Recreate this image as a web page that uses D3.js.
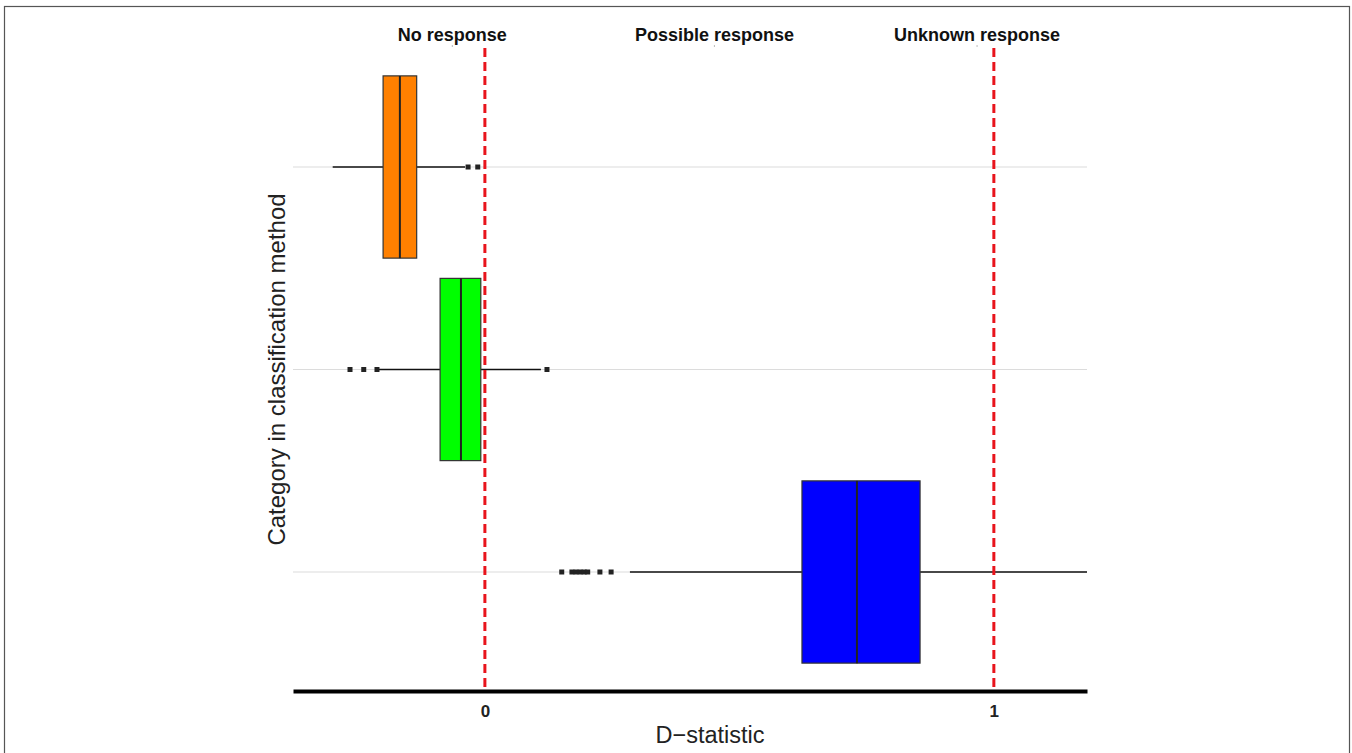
<!DOCTYPE html>
<html>
<head>
<meta charset="utf-8">
<script src="https://cdn.jsdelivr.net/npm/d3@7"></script>
<style>
  html, body { margin: 0; padding: 0; background: #fff; }
  svg { display: block; font-family: "Liberation Sans", Arial, sans-serif; }
</style>
</head>
<body>
<svg id="chart" width="1352" height="753"></svg>
<script>
// ---- data ----
const categories = ["Category 1", "Category 2", "Category 3"];
const boxColors = ["#ff8000", "#00ff00", "#0000ff"];
const whiskerLow  = [-0.299, -0.208, 0.285];
const q1          = [-0.200, -0.088, 0.623];
const medians     = [-0.167, -0.047, 0.731];
const q3          = [-0.134, -0.008, 0.855];
const whiskerHigh = [-0.039, 0.110, 1.200];
const outliers = [
  [-0.033, -0.014],
  [-0.265, -0.238, -0.212, 0.122],
  [0.151, 0.171, 0.179, 0.187, 0.195, 0.202, 0.226, 0.248]
];
const thresholds = [0, 1];
const xTicks = [0, 1];
const zoneLabels = ["No response", "Possible response", "Unknown response"];
const zonePositions = [-0.065, 0.45, 0.966];
const xDomain = [-0.377, 1.183];

// ---- layout ----
const svg = d3.select("#chart");
const pLeft = 293, pRight = 1087, pTop = 45.5, pBottom = 693.5;

const x = d3.scaleLinear().domain(xDomain).range([pLeft, pRight]);
const y = d3.scalePoint().domain(categories).range([pTop, pBottom]).padding(0.6);
const boxH = y.step() * 0.9;

// outer frame
svg.append("rect").attr("x", 4.5).attr("y", 6.5).attr("width", 1345).attr("height", 800)
  .attr("fill", "none").attr("stroke", "#555").attr("stroke-width", 1.2);

svg.append("defs").append("clipPath").attr("id", "clip")
  .append("rect").attr("x", pLeft).attr("y", pTop).attr("width", pRight - pLeft).attr("height", pBottom - pTop);

const plot = svg.append("g").attr("clip-path", "url(#clip)");

// gridlines
plot.selectAll("line.grid").data(categories).join("line")
  .attr("class", "grid")
  .attr("x1", pLeft).attr("x2", pRight)
  .attr("y1", d => y(d)).attr("y2", d => y(d))
  .attr("stroke", "#dcdcdc").attr("stroke-width", 1.2);

// boxes
categories.forEach((c, i) => {
  const cy = y(c);
  const g = plot.append("g");
  g.append("line").attr("x1", x(whiskerLow[i])).attr("x2", x(q1[i]))
    .attr("y1", cy).attr("y2", cy).attr("stroke", "#111").attr("stroke-width", 1.3);
  g.append("line").attr("x1", x(q3[i])).attr("x2", x(whiskerHigh[i]))
    .attr("y1", cy).attr("y2", cy).attr("stroke", "#111").attr("stroke-width", 1.3);
  g.append("rect").attr("x", x(q1[i])).attr("y", cy - boxH / 2)
    .attr("width", x(q3[i]) - x(q1[i])).attr("height", boxH)
    .attr("fill", boxColors[i]).attr("stroke", "#333").attr("stroke-width", 1.2);
  g.append("line").attr("x1", x(medians[i])).attr("x2", x(medians[i]))
    .attr("y1", cy - boxH / 2).attr("y2", cy + boxH / 2)
    .attr("stroke", "#222").attr("stroke-width", 2);
  g.selectAll("rect.out").data(outliers[i]).join("rect")
    .attr("class", "out")
    .attr("x", d => x(d) - 2.5).attr("y", cy - 2.5)
    .attr("width", 5).attr("height", 5).attr("fill", "#222");
});

// threshold dashed lines
svg.selectAll("line.thr").data(thresholds).join("line")
  .attr("class", "thr")
  .attr("x1", d => x(d)).attr("x2", d => x(d))
  .attr("y1", 48).attr("y2", 691)
  .attr("stroke", "#e8141c").attr("stroke-width", 3)
  .attr("stroke-dasharray", "9,5");

// x axis
const xAxis = d3.axisBottom(x).tickValues(xTicks).tickSize(0).tickFormat(d3.format("d"));
const ax = svg.append("g").attr("transform", `translate(0,${691})`).call(xAxis);
ax.attr("font-size", 17);
ax.select(".domain").attr("stroke", "#000").attr("stroke-width", 4);
ax.selectAll("text").attr("dy", null).attr("y", 26)
  .attr("font-size", 17).attr("font-weight", "bold").attr("fill", "#222")
  .attr("font-family", "Liberation Sans, Arial, sans-serif");

// zone labels on top
const topAxis = d3.axisTop(x).tickValues(zonePositions).tickSize(2)
  .tickFormat((d, i) => zoneLabels[i]);
const tax = svg.append("g").attr("transform", `translate(0,${47})`).call(topAxis);
tax.attr("font-size", 18);
tax.select(".domain").remove();
tax.selectAll(".tick line").attr("stroke", "#bbb");
tax.selectAll("text").attr("y", -6).attr("dy", null)
  .attr("font-size", 18).attr("font-weight", "bold").attr("fill", "#111")
  .attr("font-family", "Liberation Sans, Arial, sans-serif");

// axis titles
svg.append("text").attr("x", 710).attr("y", 743).attr("text-anchor", "middle")
  .attr("font-size", 23.5).attr("fill", "#222").text("D\u2212statistic");
svg.append("text").attr("transform", `translate(285,369.5) rotate(-90)`)
  .attr("text-anchor", "middle").attr("font-size", 24).attr("fill", "#222")
  .text("Category in classification method");
</script>
</body>
</html>
